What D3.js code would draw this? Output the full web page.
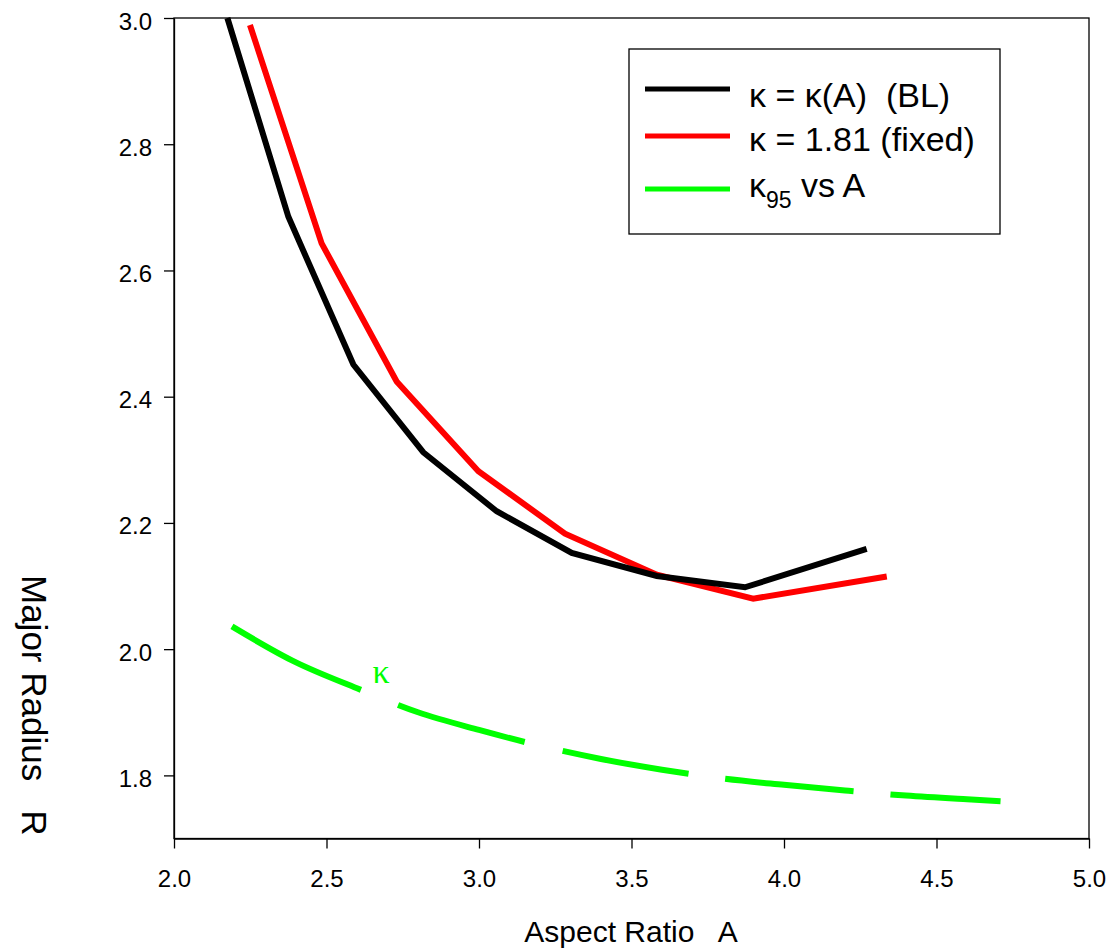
<!DOCTYPE html>
<html>
<head>
<meta charset="utf-8">
<script src="https://cdn.jsdelivr.net/npm/d3@7"></script>
<style>
html,body{margin:0;padding:0;background:#fff;}
svg text{font-family:"Liberation Sans", Arial, sans-serif;}
</style>
</head>
<body>
<svg id="chart" width="1112" height="952"></svg>
<script>
// ---- data ----
const blackA = [2.175, 2.375, 2.588, 2.817, 3.058, 3.304, 3.583, 3.872, 4.271];
const blackR = [3.0, 2.685, 2.451, 2.312, 2.2185, 2.1525, 2.116, 2.098, 2.159];

const redA = [2.249, 2.484, 2.730, 2.998, 3.282, 3.583, 3.899, 4.337];
const redR = [2.989, 2.643, 2.424, 2.282, 2.183, 2.118, 2.080, 2.115];

const greenA = [2.19, 2.4, 2.6, 2.8, 3.0, 3.2, 3.4, 3.6, 3.8, 4.0, 4.2, 4.4, 4.6, 4.71];
const greenR = [2.036, 1.979, 1.938, 1.900, 1.872, 1.847, 1.826, 1.809, 1.795, 1.785, 1.776, 1.768, 1.762, 1.759];

const xTicks = [2.0, 2.5, 3.0, 3.5, 4.0, 4.5, 5.0];
const yTicks = [1.8, 2.0, 2.2, 2.4, 2.6, 2.8, 3.0];

const legendLabels = ["κ = κ(A)  (BL)", "κ = 1.81 (fixed)", "κ"];
const xTitle = "Aspect Ratio   A";
const yTitle = "Major Radius   R";

// ---- chart ----
const svg = d3.select("#chart");
const x = d3.scaleLinear().domain([2, 5]).range([174, 1089]);
const y = d3.scaleLinear().domain([1.7, 3.0]).range([838.5, 18]);

const zip = (a, b) => a.map((v, i) => [v, b[i]]);

// frame
svg.append("rect")
  .attr("x", x(2)).attr("y", y(3))
  .attr("width", x(5) - x(2)).attr("height", y(1.7) - y(3))
  .attr("fill", "none").attr("stroke", "#000").attr("stroke-width", 1.3);

// axes
const fmt = d3.format(".1f");
const gx = svg.append("g").attr("transform", `translate(0,${y(1.7)})`)
  .call(d3.axisBottom(x).tickValues(xTicks).tickFormat(fmt).tickSize(10).tickPadding(21).tickSizeOuter(0));
const gy = svg.append("g").attr("transform", `translate(${x(2)},0)`)
  .call(d3.axisLeft(y).tickValues(yTicks).tickFormat(fmt).tickSize(10).tickPadding(12).tickSizeOuter(0));
[gx, gy].forEach(g => {
  g.select(".domain").attr("stroke", "#000").attr("stroke-width", 1.3);
  g.selectAll(".tick line").attr("stroke", "#000").attr("stroke-width", 1.3);
  g.selectAll(".tick text").attr("fill", "#000")
    .style("font-family", '"Liberation Sans", Arial, sans-serif').style("font-size", "24px");
});
gy.selectAll(".tick text").attr("dy", "0.46em");

// clip
svg.append("clipPath").attr("id", "plotclip").append("rect")
  .attr("x", x(2)).attr("y", y(3) - 1).attr("width", x(5) - x(2)).attr("height", y(1.7) - y(3) + 1);

const line = d3.line().x(d => x(d[0])).y(d => y(d[1]));
const smooth = d3.line().x(d => x(d[0])).y(d => y(d[1])).curve(d3.curveMonotoneX);

const plot = svg.append("g").attr("clip-path", "url(#plotclip)");

plot.append("path").datum(zip(greenA, greenR))
  .attr("d", smooth).attr("fill", "none").attr("stroke", "#00ff00")
  .attr("stroke-width", 6).attr("stroke-dasharray", "144 40 132 39 128 37 129 37 300 40");

plot.append("path").datum(zip(redA, redR))
  .attr("d", line).attr("fill", "none").attr("stroke", "#ff0000")
  .attr("stroke-width", 6).attr("stroke-linejoin", "miter");

plot.append("path").datum(zip(blackA, blackR))
  .attr("d", line).attr("fill", "none").attr("stroke", "#000")
  .attr("stroke-width", 6).attr("stroke-linejoin", "miter");

// green kappa label
svg.append("text").attr("x", 381).attr("y", 683).attr("text-anchor", "middle")
  .style("font-family", '"Liberation Serif", "Times New Roman", serif')
  .style("font-size", "34px").attr("fill", "#00ff00").text("κ");

// legend
const lg = svg.append("g");
lg.append("rect").attr("x", 629).attr("y", 49).attr("width", 371).attr("height", 185)
  .attr("fill", "#fff").attr("stroke", "#000").attr("stroke-width", 1.3);
const legColors = ["#000", "#ff0000", "#00ff00"];
const legLineY = [89, 136, 189];
const legTextY = [107, 151, 197];
legColors.forEach((c, i) => {
  lg.append("line").attr("x1", 645).attr("x2", 730).attr("y1", legLineY[i]).attr("y2", legLineY[i])
    .attr("stroke", c).attr("stroke-width", 5);
});
legendLabels.forEach((t, i) => {
  const tx = lg.append("text").attr("x", 749).attr("y", legTextY[i])
    .attr("fill", "#000").style("font-size", "34px").attr("xml:space", "preserve")
    .style("white-space", "pre");
  if (i < 2) {
    tx.text(t);
  } else {
    tx.append("tspan").text(t);
    tx.append("tspan").attr("dy", 11).style("font-size", "23px").text("95");
    tx.append("tspan").attr("dy", -11).text(" vs A");
  }
});

// axis titles
svg.append("text").attr("x", 631).attr("y", 942).attr("text-anchor", "middle")
  .style("font-size", "30px").style("white-space", "pre").attr("fill", "#000").text(xTitle);
svg.append("text").attr("transform", "translate(22,575) rotate(90)")
  .attr("text-anchor", "start")
  .style("font-size", "35px").style("white-space", "pre").attr("fill", "#000").text(yTitle);
</script>
</body>
</html>
